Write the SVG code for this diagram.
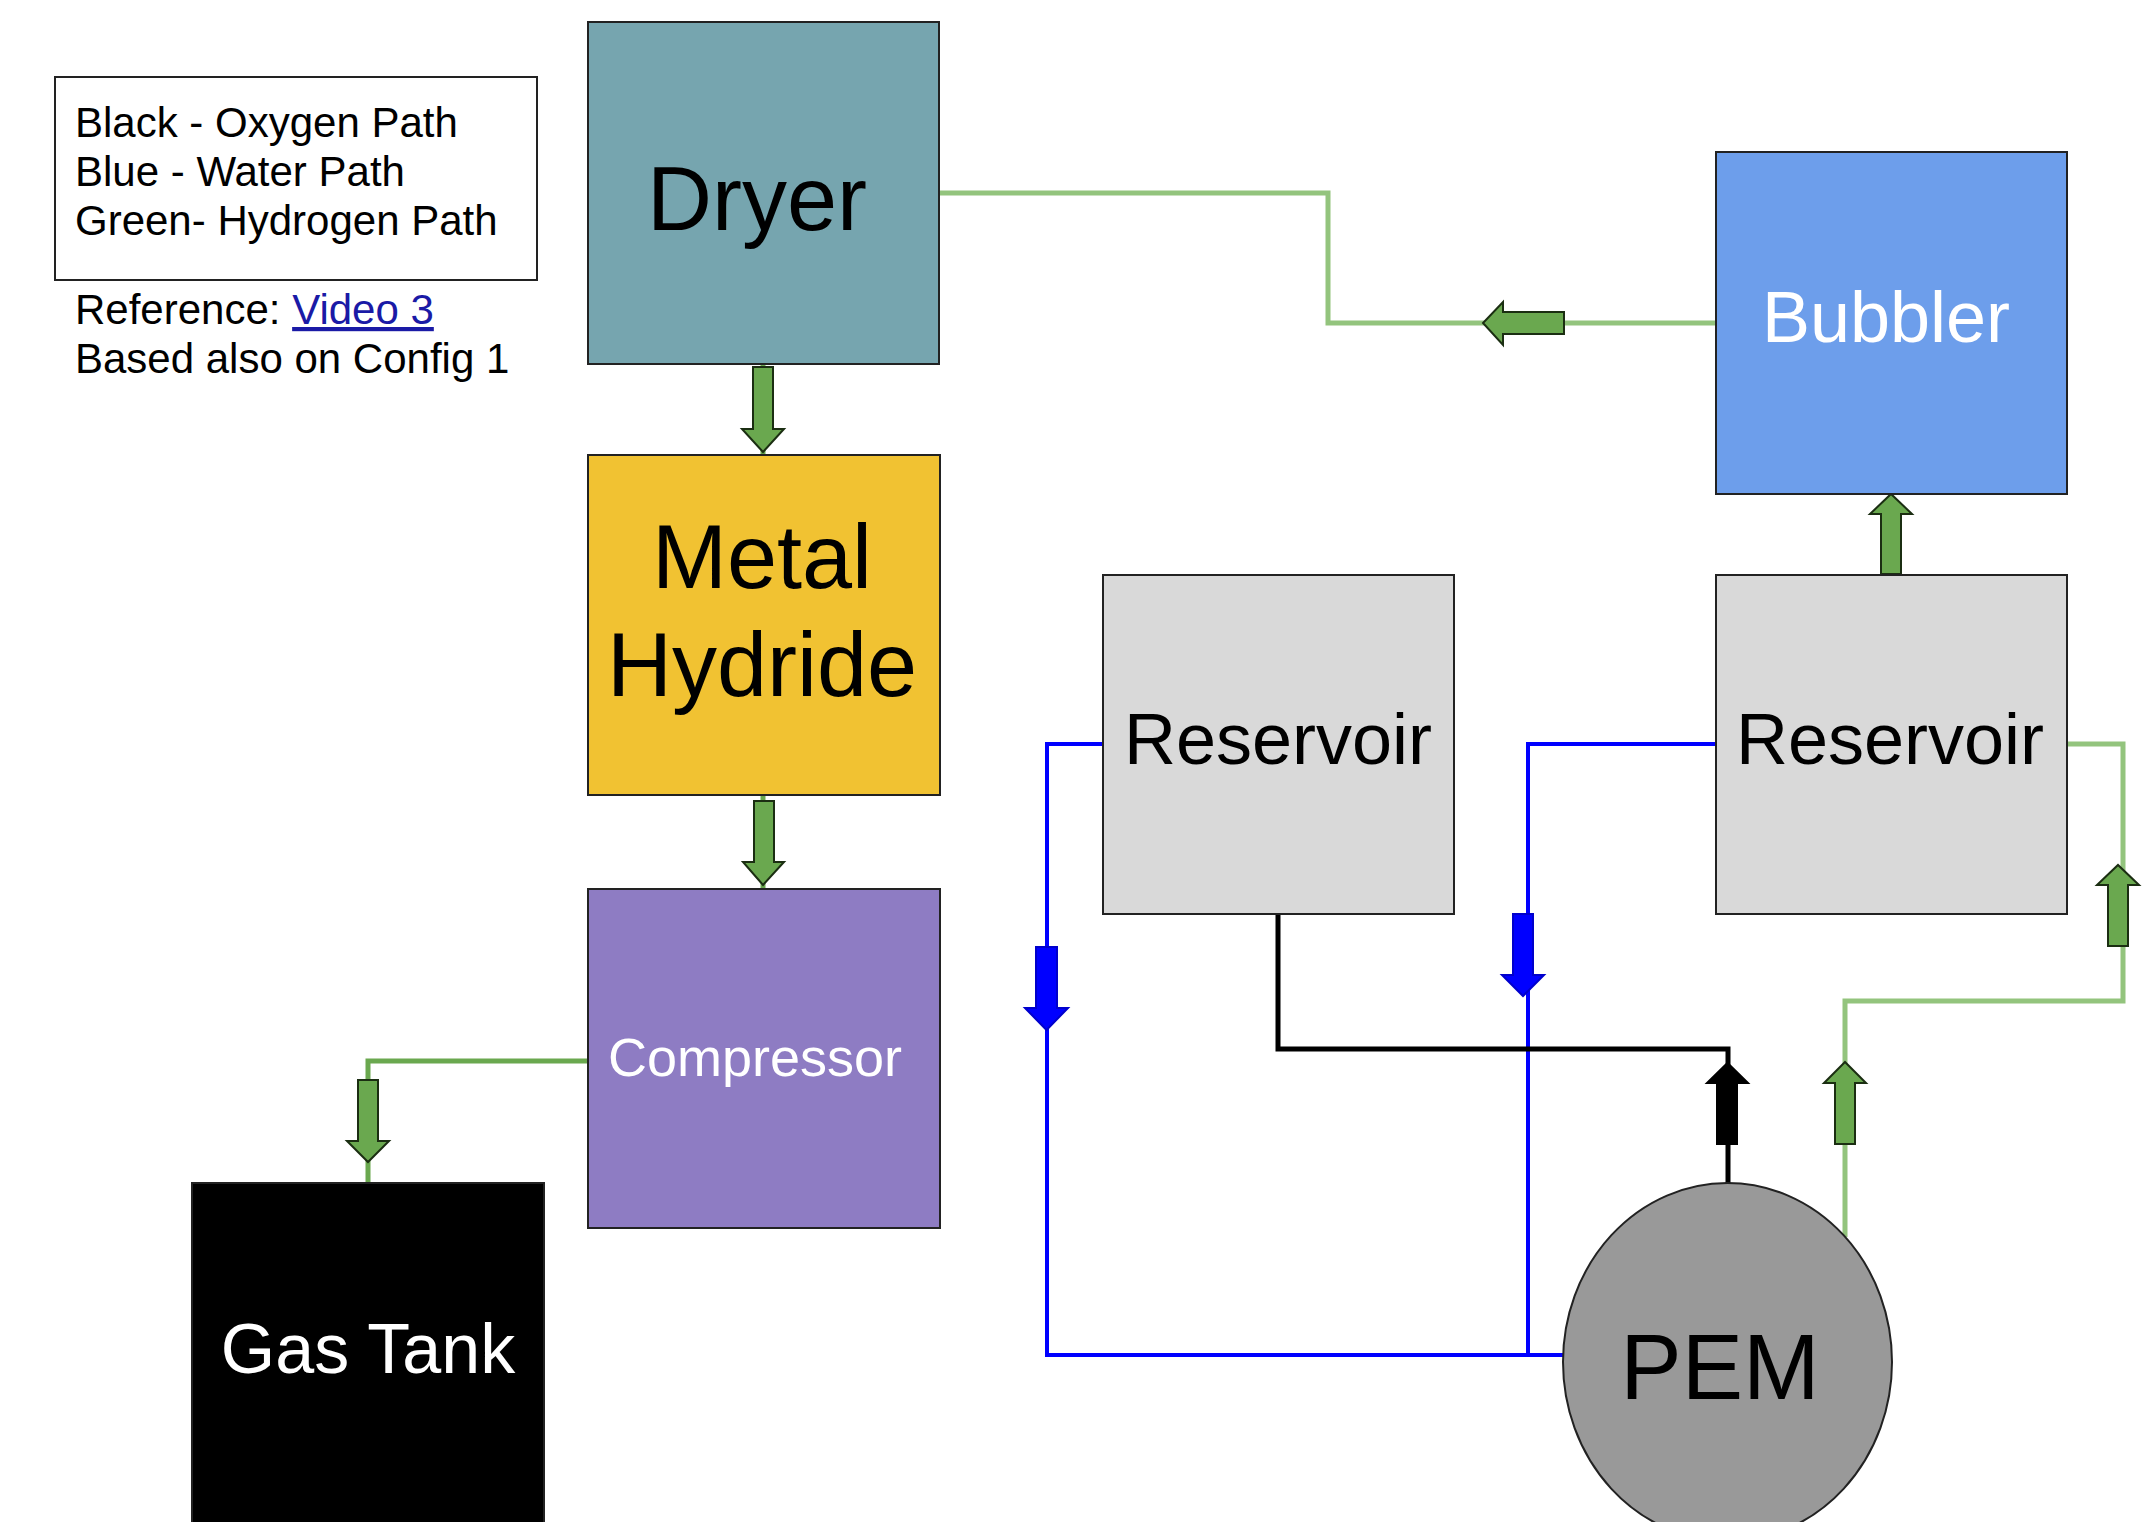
<svg xmlns="http://www.w3.org/2000/svg" width="2143" height="1522" viewBox="0 0 2143 1522">
<style>
text{font-family:"Liberation Sans",Arial,sans-serif}
.box{stroke:#222;stroke-width:2}
.big{font-size:90px;fill:#000;text-anchor:middle}
.mid{font-size:72px;text-anchor:middle}
.leg{font-size:42px;fill:#000}
.lg{fill:none;stroke:#93c47d;stroke-width:5}
.mg{fill:none;stroke:#6aa84f;stroke-width:5}
.bl{fill:none;stroke:#0000ff;stroke-width:4}
.bk{fill:none;stroke:#000;stroke-width:5}
.ga{fill:#6aa84f;stroke:#1b2e12;stroke-width:2}
.ba{fill:#0000ff;stroke:#0000cc;stroke-width:2}
.ka{fill:#000;stroke:#000;stroke-width:2}
</style>
<rect width="2143" height="1522" fill="#fff"/>
<g id="legend">
<rect x="55" y="77" width="482" height="203" fill="#fff" class="box"/>
<text class="leg" x="75" y="137">Black - Oxygen Path</text>
<text class="leg" x="75" y="186">Blue - Water Path</text>
<text class="leg" x="75" y="235">Green- Hydrogen Path</text>
<text class="leg" x="75" y="324">Reference: <tspan fill="#1a1aa6" text-decoration="underline">Video 3</tspan></text>
<text class="leg" x="75" y="373">Based also on Config 1</text>
</g>
<g id="connectors">
<polyline class="lg" points="939,193 1328,193 1328,323 1716,323"/>
<polyline class="lg" points="2067,744 2123,744 2123,1001 1845,1001 1845,1237"/>
<polyline class="mg" points="588,1061 368,1061 368,1184"/>
<polyline class="bl" points="1103,744 1047,744 1047,1355 1563,1355"/>
<polyline class="bl" points="1716,744 1528,744 1528,1355"/>
<polyline class="bk" points="1278,914 1278,1049 1728,1049 1728,1184"/>
<line class="mg" x1="763" y1="364" x2="763" y2="455" stroke-width="3"/>
<line class="mg" x1="763" y1="795" x2="763" y2="889" stroke-width="3"/>
<polygon class="ga" points="753,367 773,367 773,429 784,429 763,452 742,429 753,429"/>
<polygon class="ga" points="754,801 774,801 774,862 784,862 763,885 743,862 754,862"/>
<polygon class="ga" points="358,1080 378,1080 378,1141 389,1141 368,1162 347,1141 358,1141"/>
<polygon class="ga" points="1564,312 1564,334 1503,334 1503,345 1483,323 1503,302 1503,312"/>
<polygon class="ga" points="1881,574 1901,574 1901,514 1912,514 1891,494 1870,514 1881,514"/>
<polygon class="ga" points="2108,946 2128,946 2128,885 2139,885 2118,865 2097,885 2108,885"/>
<polygon class="ga" points="1835,1144 1855,1144 1855,1083 1866,1083 1845,1062 1824,1083 1835,1083"/>
<polygon class="ka" points="1717,1144 1737,1144 1737,1083 1748,1083 1727.5,1063 1707,1083 1717,1083"/>
<polygon class="ba" points="1036,947 1057,947 1057,1008 1068,1008 1046.5,1030 1025,1008 1036,1008"/>
<polygon class="ba" points="1513,914 1533,914 1533,975 1544,975 1523,996 1502,975 1513,975"/>
</g>
<g id="dryer">
<rect x="588" y="22" width="351" height="342" fill="#76a5af" class="box"/>
<text class="big" x="757" y="230">Dryer</text>
</g>
<g id="metal-hydride">
<rect x="588" y="455" width="352" height="340" fill="#f1c232" class="box"/>
<text class="big" x="762" y="588">Metal</text>
<text class="big" x="762" y="696">Hydride</text>
</g>
<g id="compressor">
<rect x="588" y="889" width="352" height="339" fill="#8e7cc3" class="box"/>
<text x="755" y="1076" font-size="54" fill="#fff" text-anchor="middle">Compressor</text>
</g>
<g id="gas-tank">
<rect x="192" y="1183" width="352" height="345" fill="#000" class="box"/>
<text x="368" y="1373" font-size="70" fill="#fff" text-anchor="middle">Gas Tank</text>
</g>
<g id="bubbler">
<rect x="1716" y="152" width="351" height="342" fill="#6d9eeb" class="box"/>
<text class="mid" x="1886" y="342" fill="#fff">Bubbler</text>
</g>
<g id="reservoir-1">
<rect x="1103" y="575" width="351" height="339" fill="#d9d9d9" class="box"/>
<text class="mid" x="1278" y="764" fill="#000">Reservoir</text>
</g>
<g id="reservoir-2">
<rect x="1716" y="575" width="351" height="339" fill="#d9d9d9" class="box"/>
<text class="mid" x="1890" y="764" fill="#000">Reservoir</text>
</g>
<g id="pem">
<ellipse cx="1727.5" cy="1362" rx="164.5" ry="179" fill="#999999" class="box"/>
<text x="1720" y="1399" font-size="92" fill="#000" text-anchor="middle">PEM</text>
</g>
</svg>
